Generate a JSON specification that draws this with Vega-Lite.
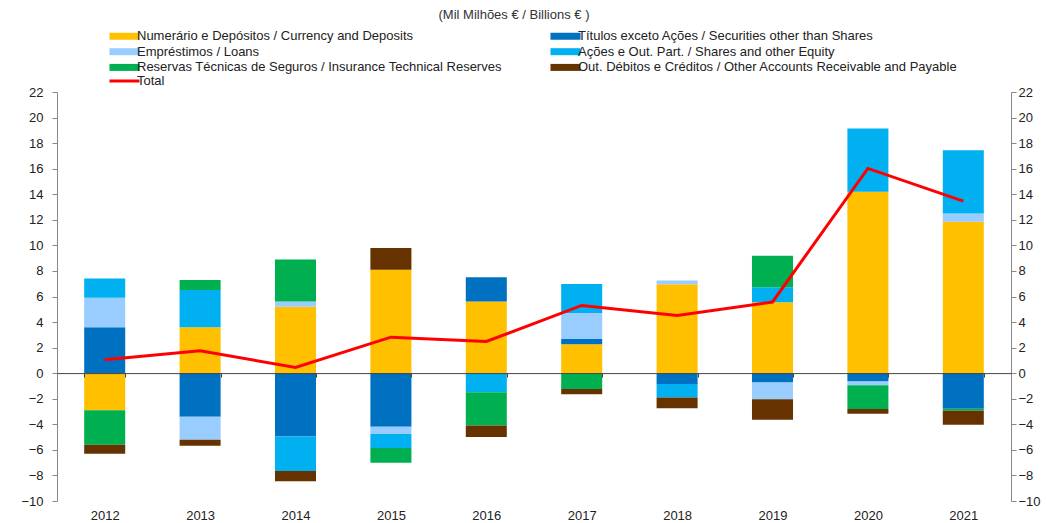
{
  "$schema": "https://vega.github.io/schema/vega-lite/v6.json",
  "width": 954,
  "height": 409,
  "autosize": {"type": "none"},
  "padding": {"left": 57, "top": 92, "right": 35, "bottom": 22},
  "background": "white",
  "config": {
    "view": {"stroke": null},
    "font": "Liberation Sans",
    "legend": {"padding": 0}
  },
  "title": {
    "text": "(Mil Milhões  € / Billions € )",
    "fontSize": 13,
    "fontWeight": "normal",
    "color": "#333333",
    "frame": "group",
    "anchor": "middle",
    "offset": 8,
    "dx": -20
  },
  "datasets": {
    "comp": [
      {"year": "2012", "k": 1, "series": "Numerário e Depósitos / Currency and Deposits", "value": -2.9},
      {"year": "2012", "k": 2, "series": "Títulos exceto Ações / Securities other than Shares", "value": 3.6},
      {"year": "2012", "k": 3, "series": "Empréstimos / Loans", "value": 2.3},
      {"year": "2012", "k": 4, "series": "Ações e Out. Part. / Shares and other Equity", "value": 1.5},
      {"year": "2012", "k": 5, "series": "Reservas Técnicas de Seguros / Insurance Technical Reserves", "value": -2.7},
      {"year": "2012", "k": 6, "series": "Out. Débitos e Créditos / Other Accounts Receivable and Payable", "value": -0.7},
      {"year": "2013", "k": 1, "series": "Numerário e Depósitos / Currency and Deposits", "value": 3.6},
      {"year": "2013", "k": 2, "series": "Títulos exceto Ações / Securities other than Shares", "value": -3.4},
      {"year": "2013", "k": 3, "series": "Empréstimos / Loans", "value": -1.8},
      {"year": "2013", "k": 4, "series": "Ações e Out. Part. / Shares and other Equity", "value": 2.9},
      {"year": "2013", "k": 5, "series": "Reservas Técnicas de Seguros / Insurance Technical Reserves", "value": 0.8},
      {"year": "2013", "k": 6, "series": "Out. Débitos e Créditos / Other Accounts Receivable and Payable", "value": -0.47},
      {"year": "2014", "k": 1, "series": "Numerário e Depósitos / Currency and Deposits", "value": 5.2},
      {"year": "2014", "k": 2, "series": "Títulos exceto Ações / Securities other than Shares", "value": -4.95},
      {"year": "2014", "k": 3, "series": "Empréstimos / Loans", "value": 0.4},
      {"year": "2014", "k": 4, "series": "Ações e Out. Part. / Shares and other Equity", "value": -2.7},
      {"year": "2014", "k": 5, "series": "Reservas Técnicas de Seguros / Insurance Technical Reserves", "value": 3.3},
      {"year": "2014", "k": 6, "series": "Out. Débitos e Créditos / Other Accounts Receivable and Payable", "value": -0.8},
      {"year": "2015", "k": 1, "series": "Numerário e Depósitos / Currency and Deposits", "value": 8.1},
      {"year": "2015", "k": 2, "series": "Títulos exceto Ações / Securities other than Shares", "value": -4.2},
      {"year": "2015", "k": 3, "series": "Empréstimos / Loans", "value": -0.55},
      {"year": "2015", "k": 4, "series": "Ações e Out. Part. / Shares and other Equity", "value": -1.1},
      {"year": "2015", "k": 5, "series": "Reservas Técnicas de Seguros / Insurance Technical Reserves", "value": -1.15},
      {"year": "2015", "k": 6, "series": "Out. Débitos e Créditos / Other Accounts Receivable and Payable", "value": 1.7},
      {"year": "2016", "k": 1, "series": "Numerário e Depósitos / Currency and Deposits", "value": 5.6},
      {"year": "2016", "k": 2, "series": "Títulos exceto Ações / Securities other than Shares", "value": 1.9},
      {"year": "2016", "k": 4, "series": "Ações e Out. Part. / Shares and other Equity", "value": -1.5},
      {"year": "2016", "k": 5, "series": "Reservas Técnicas de Seguros / Insurance Technical Reserves", "value": -2.6},
      {"year": "2016", "k": 6, "series": "Out. Débitos e Créditos / Other Accounts Receivable and Payable", "value": -0.9},
      {"year": "2017", "k": 1, "series": "Numerário e Depósitos / Currency and Deposits", "value": 2.27},
      {"year": "2017", "k": 2, "series": "Títulos exceto Ações / Securities other than Shares", "value": 0.4},
      {"year": "2017", "k": 3, "series": "Empréstimos / Loans", "value": 2.04},
      {"year": "2017", "k": 4, "series": "Ações e Out. Part. / Shares and other Equity", "value": 2.27},
      {"year": "2017", "k": 5, "series": "Reservas Técnicas de Seguros / Insurance Technical Reserves", "value": -1.23},
      {"year": "2017", "k": 6, "series": "Out. Débitos e Créditos / Other Accounts Receivable and Payable", "value": -0.41},
      {"year": "2018", "k": 1, "series": "Numerário e Depósitos / Currency and Deposits", "value": 6.95},
      {"year": "2018", "k": 2, "series": "Títulos exceto Ações / Securities other than Shares", "value": -0.85},
      {"year": "2018", "k": 3, "series": "Empréstimos / Loans", "value": 0.3},
      {"year": "2018", "k": 4, "series": "Ações e Out. Part. / Shares and other Equity", "value": -1.05},
      {"year": "2018", "k": 6, "series": "Out. Débitos e Créditos / Other Accounts Receivable and Payable", "value": -0.85},
      {"year": "2019", "k": 1, "series": "Numerário e Depósitos / Currency and Deposits", "value": 5.55},
      {"year": "2019", "k": 2, "series": "Títulos exceto Ações / Securities other than Shares", "value": -0.73},
      {"year": "2019", "k": 3, "series": "Empréstimos / Loans", "value": -1.3},
      {"year": "2019", "k": 4, "series": "Ações e Out. Part. / Shares and other Equity", "value": 1.17},
      {"year": "2019", "k": 5, "series": "Reservas Técnicas de Seguros / Insurance Technical Reserves", "value": 2.47},
      {"year": "2019", "k": 6, "series": "Out. Débitos e Créditos / Other Accounts Receivable and Payable", "value": -1.62},
      {"year": "2020", "k": 1, "series": "Numerário e Depósitos / Currency and Deposits", "value": 14.2},
      {"year": "2020", "k": 2, "series": "Títulos exceto Ações / Securities other than Shares", "value": -0.65},
      {"year": "2020", "k": 3, "series": "Empréstimos / Loans", "value": -0.29},
      {"year": "2020", "k": 4, "series": "Ações e Out. Part. / Shares and other Equity", "value": 4.95},
      {"year": "2020", "k": 5, "series": "Reservas Técnicas de Seguros / Insurance Technical Reserves", "value": -1.87},
      {"year": "2020", "k": 6, "series": "Out. Débitos e Créditos / Other Accounts Receivable and Payable", "value": -0.37},
      {"year": "2021", "k": 1, "series": "Numerário e Depósitos / Currency and Deposits", "value": 11.85},
      {"year": "2021", "k": 2, "series": "Títulos exceto Ações / Securities other than Shares", "value": -2.79},
      {"year": "2021", "k": 3, "series": "Empréstimos / Loans", "value": 0.65},
      {"year": "2021", "k": 4, "series": "Ações e Out. Part. / Shares and other Equity", "value": 4.95},
      {"year": "2021", "k": 5, "series": "Reservas Técnicas de Seguros / Insurance Technical Reserves", "value": -0.15},
      {"year": "2021", "k": 6, "series": "Out. Débitos e Créditos / Other Accounts Receivable and Payable", "value": -1.1}
    ],
    "tot": [
      {"year": "2012", "s": "Total", "total": 1.05},
      {"year": "2013", "s": "Total", "total": 1.75},
      {"year": "2014", "s": "Total", "total": 0.45},
      {"year": "2015", "s": "Total", "total": 2.82},
      {"year": "2016", "s": "Total", "total": 2.48},
      {"year": "2017", "s": "Total", "total": 5.3},
      {"year": "2018", "s": "Total", "total": 4.52},
      {"year": "2019", "s": "Total", "total": 5.57},
      {"year": "2020", "s": "Total", "total": 16.02},
      {"year": "2021", "s": "Total", "total": 13.46}
    ]
  },
  "layer": [
    {
      "data": {"name": "comp"},
      "mark": {"type": "bar"},
      "encoding": {
        "x": {
          "field": "year",
          "type": "nominal",
          "scale": {"paddingInner": 0.57, "paddingOuter": 0.285},
          "axis": {
            "title": null,
            "labelAngle": 0,
            "labelFontSize": 13,
            "labelColor": "#222222",
            "domainColor": "#444444",
            "domainWidth": 1,
            "tickColor": "#444444",
            "tickSize": 4,
            "tickBand": "extent",
            "offset": -127.9,
            "labelPadding": 132,
            "zindex": 1
          }
        },
        "y": {
          "field": "value",
          "type": "quantitative",
          "stack": "zero",
          "scale": {"domain": [-10, 22], "nice": false, "zero": false},
          "axis": {
            "title": null,
            "orient": "left",
            "values": [-10, -8, -6, -4, -2, 0, 2, 4, 6, 8, 10, 12, 14, 16, 18, 20, 22],
            "grid": false,
            "labelFontSize": 13,
            "labelColor": "#222222",
            "domainColor": "#888888",
            "tickColor": "#888888",
            "tickSize": 5,
            "labelPadding": 9
          }
        },
        "color": {
          "field": "series",
          "type": "nominal",
          "scale": {
            "domain": [
              "Numerário e Depósitos / Currency and Deposits",
              "Títulos exceto Ações / Securities other than Shares",
              "Empréstimos / Loans",
              "Ações e Out. Part. / Shares and other Equity",
              "Reservas Técnicas de Seguros / Insurance Technical Reserves",
              "Out. Débitos e Créditos / Other Accounts Receivable and Payable"
            ],
            "range": ["#FFC000", "#0070C0", "#99CCFF", "#00B0F0", "#00B050", "#663300"]
          },
          "legend": {
            "title": null,
            "orient": "none",
            "direction": "horizontal",
            "legendX": 61,
            "legendY": -62.5,
            "columns": 2,
            "columnPadding": 48,
            "rowPadding": 1.7,
            "symbolType": "M-4.29,-1H4.29V1H-4.29Z",
            "symbolSize": 49,
            "symbolStrokeWidth": 0,
            "labelOffset": 6,
            "labelFontSize": 13,
            "labelColor": "#222222",
            "labelLimit": 600
          }
        },
        "order": {"field": "k", "type": "quantitative", "sort": "ascending"}
      }
    },
    {
      "data": {"name": "tot"},
      "mark": {"type": "line", "strokeWidth": 3},
      "encoding": {
        "x": {"field": "year", "type": "nominal"},
        "y": {
          "field": "total",
          "type": "quantitative",
          "scale": {"domain": [-10, 22], "nice": false, "zero": false},
          "axis": {
            "title": null,
            "orient": "right",
            "values": [-10, -8, -6, -4, -2, 0, 2, 4, 6, 8, 10, 12, 14, 16, 18, 20, 22],
            "grid": false,
            "labelFontSize": 13,
            "labelColor": "#222222",
            "domainColor": "#888888",
            "tickColor": "#888888",
            "tickSize": 5,
            "labelPadding": 2
          }
        },
        "stroke": {
          "field": "s",
          "type": "nominal",
          "scale": {"domain": ["Total"], "range": ["#FF0000"]},
          "legend": {
            "title": null,
            "orient": "none",
            "legendX": 61,
            "legendY": -17.5,
            "symbolType": "M-4.29,-0.43H4.29V0.43H-4.29Z",
            "symbolSize": 49,
            "symbolFillColor": "#FF0000",
            "symbolStrokeWidth": 0,
            "labelOffset": 6,
            "labelFontSize": 13,
            "labelColor": "#222222"
          }
        }
      }
    }
  ],
  "resolve": {"axis": {"y": "independent"}}
}
